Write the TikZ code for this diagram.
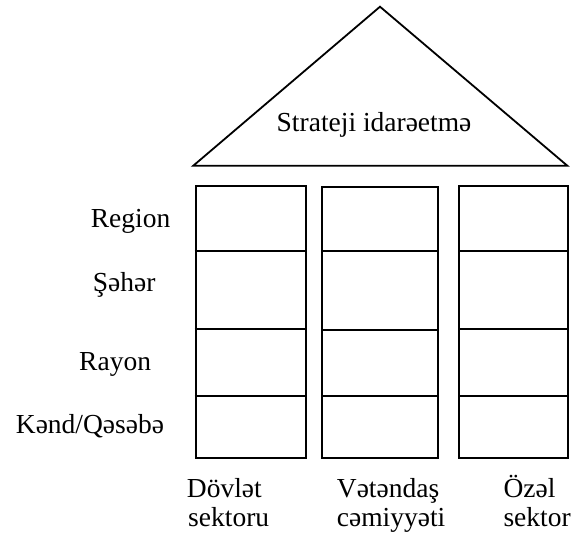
\documentclass[tikz,border=0pt]{standalone}
\usepackage{fontspec}
\setmainfont{Liberation Serif}
\begin{document}
\begin{tikzpicture}[x=1pt,y=-1pt,
  frame/.style={draw=black,line width=1.8pt},
  divider/.style={draw=black,line width=2.4pt},
  lbl/.style={inner sep=0pt,anchor=base west,font=\fontsize{27.5}{33}\selectfont},
  col/.style={frame,inner sep=0pt,anchor=north west}]
\useasboundingbox (0,0) rectangle (581,546);
% roof
\coordinate (apex) at (380,6.7);
\coordinate (bl) at (193.3,165.7);
\coordinate (br) at (567.3,165.7);
\draw[frame,line join=miter] (bl) -- (apex) -- (br) -- cycle;
\node[lbl] (roof) at (276.5,131.7) {Strateji idarəetmə};
% columns
\node[col,minimum width=110pt,minimum height=272.6pt] (c1) at (194.7,184.7) {};
\node[col,minimum width=115.7pt,minimum height=271.6pt] (c2) at (321.3,185.7) {};
\node[col,minimum width=108.7pt,minimum height=272.6pt] (c3) at (458,184.7) {};
\foreach \c/\ya/\yb/\yc in {c1/251/329/396, c2/251/330/396, c3/251/329/396}{
  \draw[divider] (\c.west |- 0,\ya) -- (\c.east |- 0,\ya);
  \draw[divider] (\c.west |- 0,\yb) -- (\c.east |- 0,\yb);
  \draw[divider] (\c.west |- 0,\yc) -- (\c.east |- 0,\yc);
}
% level labels
\node[lbl] (l1) at (90.7,227.3) {Region};
\node[lbl] (l2) at (92.7,291.7) {Şəhər};
\node[lbl] (l3) at (79,370) {Rayon};
\node[lbl] (l4) at (15.7,433.3) {Kənd/Qəsəbə};
% sector labels
\node[lbl] (s1a) at (186.7,497.3) {Dövlət};
\node[lbl] (s1b) at (188,526.7) {sektoru};
\node[lbl] (s2a) at (336.7,497.3) {Vətəndaş};
\node[lbl] (s2b) at (336.7,526.7) {cəmiyyəti};
\node[lbl] (s3a) at (503.3,497.3) {Özəl};
\node[lbl] (s3b) at (503.3,526.7) {sektor};
\end{tikzpicture}
\end{document}
